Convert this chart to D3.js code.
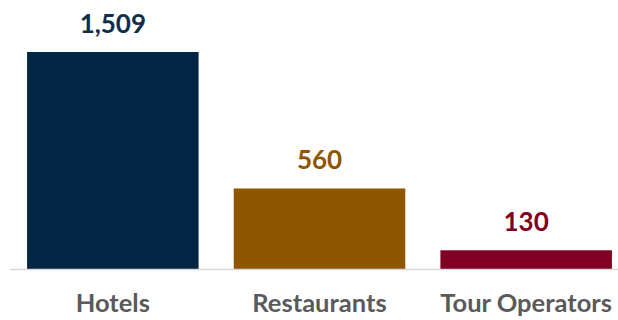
<!DOCTYPE html>
<html>
<head>
<meta charset="utf-8">
<script src="https://cdn.jsdelivr.net/npm/d3@7"></script>
<style>
  html, body { margin: 0; padding: 0; background: #ffffff; }
  svg { display: block; }
</style>
</head>
<body>
<svg id="chart" width="618" height="320"></svg>
<script>
const categories = ["Hotels", "Restaurants", "Tour Operators"];
const values = [1509, 560, 130];
const barColors = ["#042644", "#8F5600", "#800024"];
const labelColors = ["#102E4C", "#8F5600", "#800024"];

const svg = d3.select("#chart");
const baseY = 269;
const topY = 52;

const x = d3.scaleBand()
  .domain(categories)
  .range([9.5, 629.5])
  .paddingInner(0.17)
  .paddingOuter(0.085);

const y = d3.scaleLinear()
  .domain([0, 1509])
  .range([baseY, topY]);

const font = "Lato, 'Open Sans', sans-serif";

svg.selectAll("rect.bar")
  .data(values)
  .join("rect")
  .attr("class", "bar")
  .attr("x", (d, i) => x(categories[i]))
  .attr("width", x.bandwidth())
  .attr("y", d => y(d))
  .attr("height", d => baseY - y(d))
  .attr("fill", (d, i) => barColors[i]);

// baseline axis
svg.append("line")
  .attr("x1", 10).attr("x2", 618)
  .attr("y1", baseY + 0.5).attr("y2", baseY + 0.5)
  .attr("stroke", "#d9d9d9")
  .attr("stroke-width", 1.5);

// value labels
svg.selectAll("text.val")
  .data(values)
  .join("text")
  .attr("class", "val")
  .attr("x", (d, i) => x(categories[i]) + x.bandwidth() / 2)
  .attr("y", d => y(d) - 19)
  .attr("text-anchor", "middle")
  .attr("font-family", font)
  .attr("font-weight", "bold")
  .attr("font-size", 26)
  .attr("fill", (d, i) => labelColors[i])
  .text(d => d3.format(",")(d));

// category labels
svg.selectAll("text.cat")
  .data(categories)
  .join("text")
  .attr("class", "cat")
  .attr("x", d => x(d) + x.bandwidth() / 2)
  .attr("y", 312)
  .attr("text-anchor", "middle")
  .attr("font-family", font)
  .attr("font-weight", "bold")
  .attr("font-size", 25.5)
  .attr("fill", "#5a5a5a")
  .text(d => d);
</script>
</body>
</html>
